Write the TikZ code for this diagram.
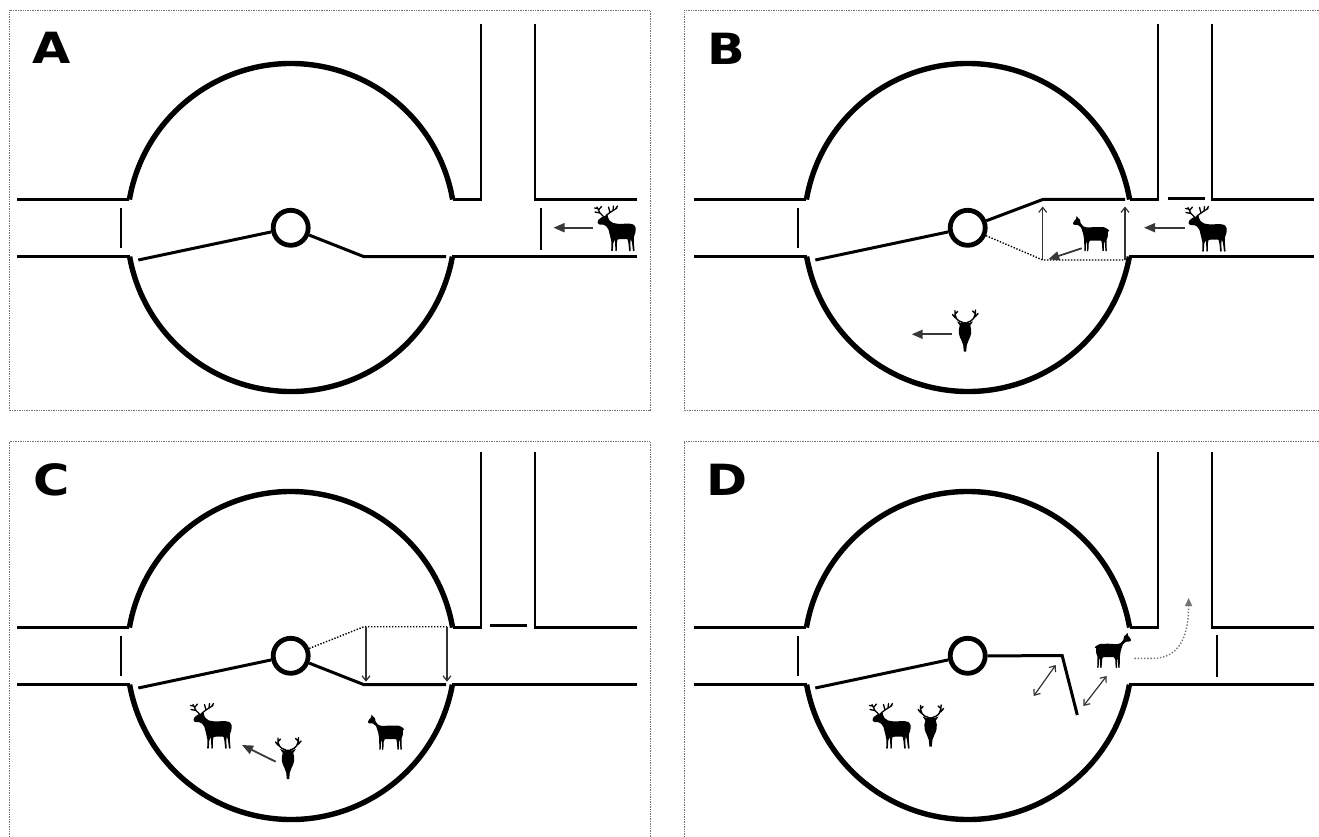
\documentclass[tikz,border=0pt]{standalone}
\usepackage{fontspec}
\newfontfamily\lblfont{DejaVu Sans}[FakeStretch=1.15]
\usetikzlibrary{arrows.meta}

\tikzset{
  frame/.style={draw=black!55, line width=0.7pt, densely dotted},
  wall/.style={line width=2.8pt},
  ring/.style={line width=5.4pt},
  pivotring/.style={circle, draw, line width=4.8pt, minimum size=35pt, inner sep=0pt},
  arm/.style={line width=3pt},
  gatebar/.style={line width=2.6pt},
  oldarm/.style={line width=1.4pt, dash pattern=on 1.4pt off 1.6pt},
  move/.style={line width=1.8pt, draw=black!78, -{Triangle[length=11pt,width=9pt]}},
  swing/.style={line width=1.2pt, draw=black!80, -{Straight Barb[length=5pt,width=8pt]}},
  swingboth/.style={line width=1.2pt, draw=black!80,
    {Straight Barb[length=5pt,width=8pt]}-{Straight Barb[length=5pt,width=8pt]}},
  exitpath/.style={line width=1.4pt, draw=black!55, dash pattern=on 1.4pt off 1.8pt,
    -{Triangle[length=8pt,width=7pt]}},
  panellabel/.style={font=\lblfont\bfseries\fontsize{43}{43}\selectfont,
    anchor=base west, inner sep=0pt},
  % enclosure: ring, road, side road, west gate and central pivot with its fixed arm
  enclosure/.pic={
    \draw[ring] (291,227.5) ++(189.83:164) arc[start angle=189.83, end angle=350.17, radius=164];
    \draw[ring] (291,227.5) ++(10.25:164) arc[start angle=10.25, end angle=169.75, radius=164];
    \draw[wall] (17,199.5) -- (129.4,199.5);
    \draw[wall] (17,256.7) -- (129.6,256.7);
    \draw[wall] (452.6,199.5) -- (481,199.5) -- (481,24);
    \draw[wall] (535,24) -- (535,199.5) -- (637,199.5);
    \draw[wall] (452.4,256.7) -- (637,256.7);
    \draw[gatebar] (121,208.3) -- (121,248.3);
    \node[pivotring] (-pivot) at (290.7,227.8) {};
    \draw[arm] (-pivot) -- (138.3,260);
  },
  % stag seen from the side, facing left
  stag/.pic={
    \fill[rounded corners=0.6pt]
      (-17.5,-6.5) -- (-16.8,-9.5) -- (-13,-12.5) -- (-10,-13.5) -- (-7.5,-15) -- (-7,-12) -- (-5.5,-9)
      -- (-2,-6.5) -- (4,-5.5) -- (14,-6) -- (18.5,-5) -- (20.5,-2.5) -- (20.5,2.5) -- (19,7)
      -- (18.8,13) -- (19.6,21.5) -- (18,21.8) -- (17,13) -- (15.8,9.5)
      -- (15.2,14) -- (15.8,21.5) -- (14.2,21.8) -- (13.4,13.5) -- (12.5,9.5)
      -- (2.5,9.8) -- (1.8,14) -- (1.8,21.5) -- (0.3,21.8) -- (0.2,13.5) -- (-0.5,10)
      -- (-1.8,14) -- (-2.2,21.5) -- (-3.8,21.8) -- (-3.6,12.5) -- (-4.8,7)
      -- (-6.5,0) -- (-9,-3.5) -- (-12,-5) -- (-16,-5) -- cycle;
    \draw[line width=1.3pt, line cap=round, line join=round]
      (-11.5,-13) -- (-15,-16.5) -- (-18,-22.5)
      (-15,-16.5) -- (-20,-17.5)
      (-16.5,-19.5) -- (-13.5,-23)
      (-17.5,-21) -- (-20.5,-21.5)
      (-9,-14) -- (-5,-17) -- (2,-21.5)
      (-5,-17) -- (-6.5,-22.5)
      (-2,-19) -- (-1.5,-23.5)
      (0.5,-20.5) -- (2.5,-23.5);
  },
  % hind seen from the side, facing left
  doe/.pic={
    \fill[rounded corners=0.5pt]
      (-19,-12) -- (-17.5,-14.5) -- (-16,-16) -- (-15.5,-19) -- (-13.5,-16.5) -- (-12,-15.5) -- (-11.5,-12)
      -- (-8.5,-8.5) -- (-5,-7.5) -- (4,-8) -- (12,-7.8) -- (15.5,-6) -- (17.5,-4) -- (15.8,-3.5)
      -- (15.8,1.5) -- (14.5,5) -- (14.8,16) -- (13.5,16.4) -- (12.8,8) -- (11.8,6)
      -- (11.8,16) -- (10.5,16.4) -- (9.8,7.5) -- (9,5.5)
      -- (-2,5.5) -- (-3.3,8) -- (-3.6,16) -- (-5,16.4) -- (-5,8) -- (-5.8,7)
      -- (-6.3,16) -- (-7.7,16.4) -- (-7.8,5) -- (-8.8,-1) -- (-11,-7.5) -- (-14,-10) -- (-18.5,-10.3) -- cycle;
  },
  % stag seen from the front
  stagfront/.pic={
    \fill (0,-9) .. controls (5,-9.5) and (7,-3) .. (6,3) .. controls (5,8) and (2.5,10) .. (1.8,14)
      -- (1.2,20.5) -- (-1.2,20.5) -- (-1.8,14) .. controls (-2.5,10) and (-5,8) .. (-6,3)
      .. controls (-7,-3) and (-5,-9.5) .. (0,-9) -- cycle;
    \fill (-2.5,-7.5) -- (-8,-9.5) -- (-4.5,-4.5) -- cycle;
    \fill (2.5,-7.5) -- (8,-9.5) -- (4.5,-4.5) -- cycle;
    \draw[line width=1.4pt, line cap=round, line join=round]
      (-2,-8.5) .. controls (-8,-10) and (-10.5,-13) .. (-10,-20.5)
      (-9.6,-13) -- (-12.5,-16.5)
      (-10,-17) -- (-7.5,-19.5)
      (2,-8.5) .. controls (8,-10) and (10.5,-13.5) .. (10.5,-21)
      (10,-14) -- (13,-17.5)
      (10.3,-17.5) -- (7.5,-20);
  }
}

\begin{document}
\begin{tikzpicture}[x=1pt, y=-1pt]
  \useasboundingbox (0,0) rectangle (1319,837);

  % panel frames
  \draw[frame] (9,10.5) rectangle (650,410.5);
  \draw[frame] (684,10.5) rectangle (1330,410.5);
  \draw[frame] (9,441.5) rectangle (650,850);
  \draw[frame] (684,441.5) rectangle (1330,850);

  % panel letters
  \node[panellabel] (labelA) at (32,63.3) {A};
  \node[panellabel] (labelB) at (707,64.5) {B};
  \node[panellabel] (labelC) at (33,495) {C};
  \node[panellabel] (labelD) at (706,495) {D};

  % A: gate closed on the road, stag approaching
  \pic (A) at (0,0) {enclosure};
  \draw[arm] (A-pivot) -- (364,256.7) -- (446,256.7);
  \draw[gatebar] (541,208) -- (541,250);
  \pic at (615,229.5) {stag};
  \coordinate (aFrom) at (593,227.7);
  \coordinate (aTo) at (553.5,227.7);
  \draw[move] (aFrom) -- (aTo);

  % B: side road closed, arm swung up
  \begin{scope}[shift={(677,0)}]
    \pic (B) at (0,0) {enclosure};
    \draw[gatebar] (491,198.5) -- (528,198.5);
    \coordinate (bUp1) at (365.7,199.5);
    \coordinate (bUp2) at (448,199.5);
    \coordinate (bLo1) at (365.7,260);
    \coordinate (bLo2) at (448,260);
    \draw[arm] (B-pivot) -- (bUp1) -- (bUp2);
    \draw[oldarm] (B-pivot) -- (bLo1) -- (bLo2);
    \draw[swing] (bLo1) -- (365.7,206.5);
    \draw[swing] (bLo2) -- (448,206.5);
    \pic at (415,235) {doe};
    \draw[move] (404.7,248.3) -- (371.3,259.3);
    \pic at (529,230) {stag};
    \draw[move] (508,227.7) -- (467,227.7);
    \pic at (288,331) {stagfront};
    \draw[move] (274.7,334.3) -- (234.7,334.3);
  \end{scope}

  % C: arm swung back down
  \begin{scope}[shift={(0,428)}]
    \pic (C) at (0,0) {enclosure};
    \draw[gatebar] (490,197.5) -- (527,197.5);
    \coordinate (cUp1) at (364,198.7);
    \coordinate (cUp2) at (447,198.7);
    \draw[arm] (C-pivot) -- (364,256.7) -- (446,256.7);
    \draw[oldarm] (C-pivot) -- (cUp1) -- (cUp2);
    \draw[swing] (366,198.7) -- (366,253.7);
    \draw[swing] (cUp2) -- (447,253.7);
    \pic at (211,299) {stag};
    \pic at (288,330.5) {stagfront};
    \draw[move] (275.7,333.7) -- (242,317);
    \pic at (387,305.5) {doe};
  \end{scope}

  % D: arm turned into the ring, hind leaving by the side road
  \begin{scope}[shift={(677,428)}]
    \pic (D) at (0,0) {enclosure};
    \draw[gatebar] (540,207) -- (540,248.7);
    \coordinate (dBend) at (385.2,227.7);
    \coordinate (dTip) at (400.3,287);
    \draw[arm] (D-pivot) -- (dBend) -- (dTip);
    \draw[swingboth] (356.7,268) -- (378.7,237);
    \draw[swingboth] (406.4,278) -- (429.6,248);
    \pic[xscale=-1] at (435,223.7) {doe};
    \draw[exitpath] (457.4,230.3) -- (476,230.3) .. controls (500,230.3) and (511.6,212) .. (511.6,170);
    \pic at (213,299) {stag};
    \pic at (253.6,298) {stagfront};
  \end{scope}
\end{tikzpicture}
\end{document}
